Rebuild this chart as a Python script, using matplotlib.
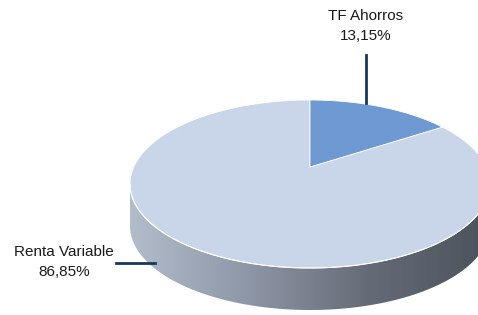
import numpy as np
import matplotlib.pyplot as plt
from matplotlib.patches import Polygon
from matplotlib.colors import LinearSegmentedColormap

# Data
labels = ["TF Ahorros", "Renta Variable"]
shares = [13.15, 86.85]
value_labels = ["13,15%", "86,85%"]
top_colors = ["#6f99d2", "#c9d5e8"]

plt.rcParams['font.family'] = ['Liberation Sans', 'DejaVu Sans']

W, H = 478, 315
fig = plt.figure(figsize=(W / 100, H / 100), dpi=100)
ax = fig.add_axes([0, 0, 1, 1])
ax.set_xlim(0, W)
ax.set_ylim(H, 0)
ax.axis('off')

# pie geometry (pixel space, y down)
cx, cy = 310, 184
a, b = 180, 84
depth = 42
apex = (cx, cy - 17)

def ell(t):
    # t measured clockwise from 12 o'clock
    return cx + a * np.sin(t), cy - b * np.cos(t)

# side wall (front half) with gradient
t = np.linspace(np.pi / 2, 3 * np.pi / 2, 200)
tx, ty = ell(t)
side_pts = np.column_stack([np.r_[tx, tx[::-1]], np.r_[ty, ty[::-1] + depth]])
side = Polygon(side_pts, closed=True, facecolor='none', edgecolor='none')
ax.add_patch(side)
grad = np.linspace(0, 1, 256).reshape(1, -1)
cmap = LinearSegmentedColormap.from_list('side', ["#b3bccb", "#8d96a6", "#656b76", "#4c525c"])
im = ax.imshow(grad, cmap=cmap, aspect='auto',
               extent=[cx - a, cx + a, cy + b + depth, cy - 5], zorder=1)
im.set_clip_path(side)

# top slices
start = 0.0
total = sum(shares)
for i, s in enumerate(shares):
    sweep = 2 * np.pi * s / total
    tt = np.linspace(start, start + sweep, 200)
    px, py = ell(tt)
    pts = np.column_stack([np.r_[apex[0], px], np.r_[apex[1], py]])
    ax.add_patch(Polygon(pts, closed=True, facecolor=top_colors[i],
                         edgecolor='white', linewidth=0.6, zorder=2 + (i == 0)))
    start += sweep

# top rim highlight
ax.plot(tx, ty, color='white', lw=0.8, zorder=4)

# labels and leader lines
line_c = "#17375e"
ax.plot([366, 366], [55, 103], color=line_c, lw=2, zorder=5)
ax.text(366, 16, labels[0], ha='center', va='center', fontsize=11, color='#1a1a1a')
ax.text(366, 36, value_labels[0], ha='center', va='center', fontsize=11, color='#1a1a1a')

ax.plot([116, 155], [263, 263], color=line_c, lw=2, zorder=5)
ax.text(64, 252, labels[1], ha='center', va='center', fontsize=11, color='#1a1a1a')
ax.text(64, 272, value_labels[1], ha='center', va='center', fontsize=11, color='#1a1a1a')

fig.savefig('out.png', dpi=100)
